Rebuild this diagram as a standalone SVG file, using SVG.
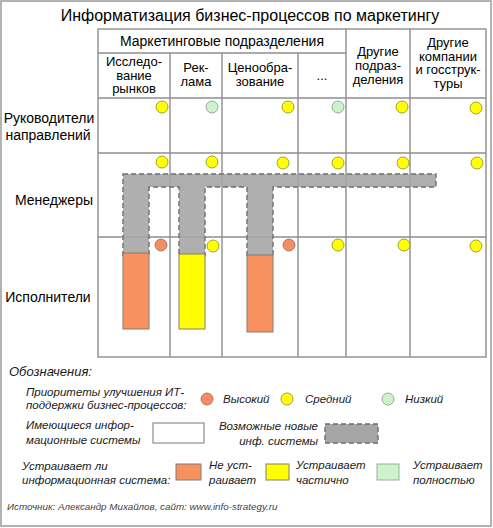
<svg xmlns="http://www.w3.org/2000/svg" width="493" height="528" viewBox="0 0 493 528">
<defs>
<style>
text{font-family:"Liberation Sans",Arial,sans-serif;fill:#000}
.t{font-size:16px}
.h{font-size:14px;text-anchor:middle}
.c{font-size:13px;text-anchor:middle}
.r{font-size:14px;text-anchor:middle}
.l{font-size:11.5px;font-style:italic;fill:#1a1a1a}
.lt{font-size:13px;font-style:italic;fill:#1a1a1a}
.src{font-size:9.8px;font-style:italic;fill:#444}
.grid{stroke:#8e8e8e;stroke-width:1.4;fill:none}
.hi{fill:#F58D63;stroke:#9a6a55;stroke-width:0.8}
.mid{fill:#FFFF00;stroke:#8a8a20;stroke-width:0.8}
.lo{fill:#CDF3CD;stroke:#7f9a7f;stroke-width:0.8}
.new{fill:#A6A6A6;stroke:#6f6f6f;stroke-width:1.4;stroke-dasharray:5,3}
.sys{stroke:#8a7a70;stroke-width:1}
</style>
</defs>
<rect x="1" y="1" width="490" height="525" fill="#fff" stroke="#9a9a9a" stroke-width="1.5"/>
<text class="t" x="250" y="21" text-anchor="middle">Информатизация бизнес-процессов по маркетингу</text>

<g id="grid">
<rect class="grid" x="98" y="29" width="388" height="328"/>
<line class="grid" x1="98" y1="53" x2="346" y2="53"/>
<line class="grid" x1="98" y1="98" x2="486" y2="98"/>
<line class="grid" x1="98" y1="153" x2="486" y2="153"/>
<line class="grid" x1="98" y1="237" x2="486" y2="237"/>
<line class="grid" x1="170" y1="53" x2="170" y2="357"/>
<line class="grid" x1="222" y1="53" x2="222" y2="357"/>
<line class="grid" x1="298" y1="53" x2="298" y2="357"/>
<line class="grid" x1="346" y1="29" x2="346" y2="357"/>
<line class="grid" x1="410" y1="29" x2="410" y2="357"/>
</g>

<g id="headers">
<text class="h" x="222" y="46">Маркетинговые подразделения</text>
<text class="c" x="134" y="66">Исследо-</text>
<text class="c" x="134" y="79.5">вание</text>
<text class="c" x="134" y="93">рынков</text>
<text class="c" x="196" y="72">Рек-</text>
<text class="c" x="196" y="86">лама</text>
<text class="c" x="260" y="72">Ценообра-</text>
<text class="c" x="260" y="86">зование</text>
<text class="c" x="322" y="80">...</text>
<text class="c" x="378" y="56">Другие</text>
<text class="c" x="378" y="70">подраз-</text>
<text class="c" x="378" y="84">деления</text>
<text class="c" x="448" y="47">Другие</text>
<text class="c" x="448" y="60.5">компании</text>
<text class="c" x="448" y="74">и госструк-</text>
<text class="c" x="448" y="87.5">туры</text>
</g>

<g id="rows">
<text class="r" x="49" y="123">Руководители</text>
<text class="r" x="48" y="140">направлений</text>
<text class="r" x="54" y="205">Менеджеры</text>
<text class="r" x="48" y="302">Исполнители</text>
</g>

<g id="new-systems">
<path class="new" fill-opacity="0.9" d="M123,174 H436 V187 H273 V256 H247 V187 H205 V256 H179 V187 H149 V256 H123 Z"/>
</g>

<g id="systems">
<rect class="sys" x="123" y="253" width="26" height="76" fill="#F79160"/>
<rect class="sys" x="179" y="254" width="26" height="75" fill="#FFFF00"/>
<rect class="sys" x="247" y="255" width="26" height="77" fill="#F79160"/>
</g>

<g id="priorities">
<circle class="mid" cx="162" cy="107" r="6"/>
<circle class="lo" cx="212" cy="107" r="6"/>
<circle class="mid" cx="288" cy="107" r="6"/>
<circle class="lo" cx="338" cy="107" r="6"/>
<circle class="mid" cx="402" cy="107" r="6"/>
<circle class="mid" cx="476" cy="108" r="6"/>
<circle class="mid" cx="162" cy="162" r="6"/>
<circle class="mid" cx="212" cy="162" r="6"/>
<circle class="mid" cx="283" cy="163" r="6"/>
<circle class="mid" cx="338" cy="163" r="6"/>
<circle class="mid" cx="403" cy="163" r="6"/>
<circle class="mid" cx="477" cy="163" r="6"/>
<circle class="hi" cx="161" cy="245" r="6"/>
<circle class="mid" cx="213" cy="246" r="6"/>
<circle class="hi" cx="289" cy="245" r="6"/>
<circle class="mid" cx="338" cy="245" r="6"/>
<circle class="mid" cx="404" cy="245" r="6"/>
<circle class="mid" cx="476" cy="246" r="6"/>
</g>

<g id="legend">
<text class="lt" x="9" y="376">Обозначения:</text>
<text class="l" x="26" y="396">Приоритеты улучшения ИТ-</text>
<text class="l" x="26" y="409">поддержки бизнес-процессов:</text>
<circle class="hi" cx="207" cy="399" r="6"/>
<text class="l" x="223" y="403">Высокий</text>
<circle class="mid" cx="287" cy="399" r="6"/>
<text class="l" x="305" y="403">Средний</text>
<circle class="lo" cx="388" cy="399" r="6"/>
<text class="l" x="405" y="403">Низкий</text>

<text class="l" x="26" y="429">Имеющиеся инфор-</text>
<text class="l" x="26" y="444">мационные системы</text>
<rect x="153" y="423" width="51" height="20" fill="#fff" stroke="#8e8e8e" stroke-width="1.2"/>
<text class="l" x="318" y="430" text-anchor="end">Возможные новые</text>
<text class="l" x="318" y="445" text-anchor="end">инф. системы</text>
<rect class="new" x="325" y="424" width="53" height="19"/>

<text class="l" x="22" y="470">Устраивает ли</text>
<text class="l" x="22" y="484">информационная система:</text>
<rect class="sys" x="176" y="464" width="25" height="16" fill="#F79160"/>
<text class="l" x="209" y="469">Не уст-</text>
<text class="l" x="209" y="484">раивает</text>
<rect class="sys" x="266" y="464" width="23" height="16" fill="#FFFF00"/>
<text class="l" x="296" y="469">Устраивает</text>
<text class="l" x="296" y="484">частично</text>
<rect x="377" y="464" width="22" height="16" fill="#CDF3CD" stroke="#9ab09a" stroke-width="1"/>
<text class="l" x="413" y="469">Устраивает</text>
<text class="l" x="413" y="484">полностью</text>
</g>

<g id="connectors"/>

<text class="src" x="7" y="510">Источник: Александр Михайлов, сайт: www.info-strategy.ru</text>
</svg>
